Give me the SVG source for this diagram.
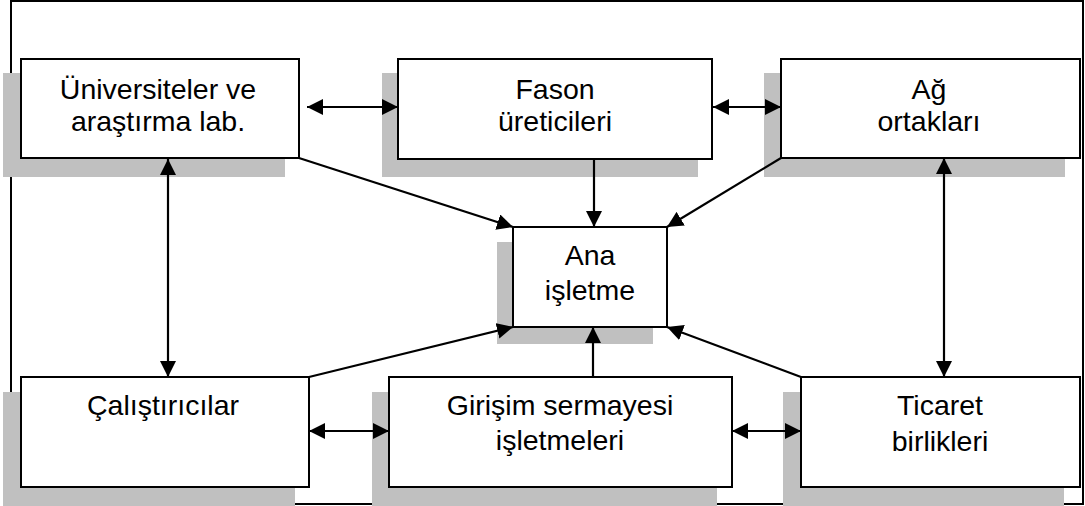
<svg xmlns="http://www.w3.org/2000/svg" width="1085" height="506" viewBox="0 0 1085 506">
  <style>
    .shadow { fill: #c0c0c0; stroke: none; }
    .box { fill: #ffffff; stroke: #000000; stroke-width: 2; }
    .label { font-family: "Liberation Sans", Arial, sans-serif; font-size: 28.5px; fill: #000000; text-anchor: middle; }
    .link { stroke: #000000; stroke-width: 2.2; fill: none; }
    .frame { stroke: #000000; stroke-width: 2; fill: none; }
  </style>
  <defs>
    <marker id="arrow" markerUnits="userSpaceOnUse" markerWidth="17" markerHeight="16" refX="16" refY="8" orient="auto-start-reverse">
      <path d="M0,0 L16,8 L0,16 z" fill="#000000"/>
    </marker>
  </defs>

  <rect width="1085" height="506" fill="#ffffff"/>

  <!-- outer frame -->
  <path class="frame" d="M11,505 L11,1 L1083,1 L1083,504 L11,504"/>

  <!-- nodes -->
  <g id="universiteler">
    <rect class="shadow" x="3" y="73" width="282" height="104"/>
    <rect class="box" x="21" y="59" width="278" height="99"/>
    <text class="label" x="158" y="99">Üniversiteler ve</text>
    <text class="label" x="158" y="131">araştırma lab.</text>
  </g>

  <g id="fason">
    <rect class="shadow" x="382" y="73" width="316" height="104"/>
    <rect class="box" x="398" y="59" width="314" height="100"/>
    <text class="label" x="555" y="99">Fason</text>
    <text class="label" x="555" y="131">üreticileri</text>
  </g>

  <g id="ag-ortaklari">
    <rect class="shadow" x="764" y="73" width="301" height="104"/>
    <rect class="box" x="781" y="59" width="299" height="99"/>
    <text class="label" x="929" y="99">Ağ</text>
    <text class="label" x="929" y="131">ortakları</text>
  </g>

  <g id="ana-isletme">
    <rect class="shadow" x="497" y="242" width="156" height="102"/>
    <rect class="box" x="513" y="227" width="154" height="100"/>
    <text class="label" x="590" y="265">Ana</text>
    <text class="label" x="590" y="300">işletme</text>
  </g>

  <g id="calistiricilar">
    <rect class="shadow" x="3" y="392" width="292" height="114"/>
    <rect class="box" x="21" y="377" width="288" height="110"/>
    <text class="label" x="163" y="415">Çalıştırıcılar</text>
  </g>

  <g id="girisim">
    <rect class="shadow" x="372" y="392" width="345" height="114"/>
    <rect class="box" x="389" y="377" width="343" height="110"/>
    <text class="label" x="560" y="415">Girişim sermayesi</text>
    <text class="label" x="560" y="450">işletmeleri</text>
  </g>

  <g id="ticaret">
    <rect class="shadow" x="783" y="392" width="281" height="114"/>
    <rect class="box" x="801" y="377" width="279" height="110"/>
    <text class="label" x="940" y="415">Ticaret</text>
    <text class="label" x="940" y="451">birlikleri</text>
  </g>

  <!-- connectors -->
  <g id="connectors">
    <line class="link" x1="307" y1="107" x2="398" y2="107" marker-start="url(#arrow)" marker-end="url(#arrow)"/>
    <line class="link" x1="713" y1="107" x2="781" y2="107" marker-start="url(#arrow)" marker-end="url(#arrow)"/>
    <line class="link" x1="168" y1="159" x2="168" y2="377" marker-start="url(#arrow)" marker-end="url(#arrow)"/>
    <line class="link" x1="944" y1="158" x2="944" y2="377" marker-start="url(#arrow)" marker-end="url(#arrow)"/>
    <line class="link" x1="309" y1="431" x2="389" y2="431" marker-start="url(#arrow)" marker-end="url(#arrow)"/>
    <line class="link" x1="732" y1="431" x2="801" y2="431" marker-start="url(#arrow)" marker-end="url(#arrow)"/>

    <line class="link" x1="299" y1="158" x2="513" y2="227" marker-end="url(#arrow)"/>
    <line class="link" x1="594" y1="159" x2="594" y2="227" marker-end="url(#arrow)"/>
    <line class="link" x1="781" y1="158" x2="667" y2="227" marker-end="url(#arrow)"/>
    <line class="link" x1="309" y1="377" x2="513" y2="327" marker-end="url(#arrow)"/>
    <line class="link" x1="593" y1="377" x2="593" y2="327" marker-end="url(#arrow)"/>
    <line class="link" x1="801" y1="377" x2="667" y2="327" marker-end="url(#arrow)"/>
  </g>
</svg>
